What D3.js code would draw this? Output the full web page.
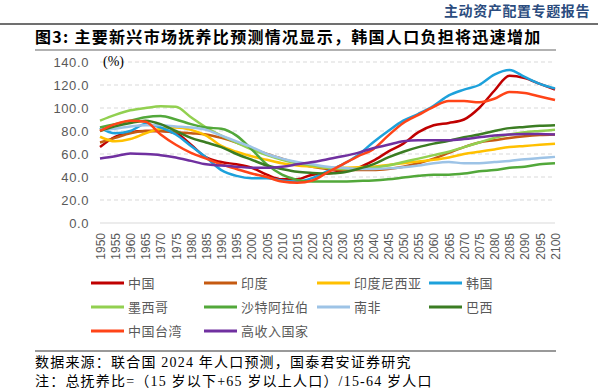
<!DOCTYPE html>
<html>
<head>
<meta charset="utf-8">
<script src="https://cdn.jsdelivr.net/npm/d3@7"></script>
<style>
  body { margin: 0; background: #fff; }
  svg { display: block; }
</style>
</head>
<body>
<svg></svg>
<script>
// categories
var years = [1950,1955,1960,1965,1970,1975,1980,1985,1990,1995,2000,2005,2010,2015,2020,2025,
             2030,2035,2040,2045,2050,2055,2060,2065,2070,2075,2080,2085,2090,2095,2100];

// total dependency ratio (%)
var china     = [66,75,79,80,80,78,68,57,53,51,48,42,38,38,42,43,45,48,54,62,69,79,85,87,90,100,115,128,126,121,116];
var india     = [70,74,78,80,80,79,78,77,74,70,65,60,56,52,49,47,46,46,46,47,49,52,56,61,66,70,72,74,75.5,76.5,77];
var indonesia = [75,71,73,78,82,83,81,76,67,62,58,55,52,50,49,48,48,48.5,49,50.5,52,53.5,55,57,60,62,64,66,67,68,69];
var korea     = [83,78,80,86,83,77,67,57,46,41,39,39,37,36,39,45,51,59,70,80,89,95,102,111,116,120,129,133,127,121,117];
var mexico    = [89,94,98,100,101.5,101,92,83,76,70,64,59,55,52,50,48,47,47,48,50,53,56,59,62,66,70,74,77,79,80,81];
var saudi     = [83,86,89,92,93,90,86,83,82,76,64,51,42,37.5,36,36,36,36.5,37,38,39.5,41,42,42,43,45,46,48,49,51,52];
var safrica   = [81,82,84,85,85,84,83,81,76,71,66,60,56,53,51,49,48,47,47,47.5,48.5,50,52,53,52,52,53,54,55.5,56.5,57.5];
var brazil    = [80,84,87,89,86,80,74,70,66,60,55,50,47,44.5,43.5,43,44,47,51,57,62,66,69,71.5,74.5,77,80,82.5,83.5,84.5,85];
var taiwan    = [80,86,89,88,77,68,61,56,51,47,43,40,36,35,37,44,51,58,64,76,87,94,101,106,106,105,108,114,113,110,107];
var highinc   = [56,58,60.5,60,59,57,54,51,50,49,48,48,49,51,53,55.5,58,61,65,68,71,72,72,72,73,74.5,76,77,77.5,77.5,77];

var names  = ["中国","印度","印度尼西亚","韩国","墨西哥","沙特阿拉伯","南非","巴西","中国台湾","高收入国家"];
var colors = ["#C00000","#C55A11","#FFC000","#1DA1DB","#92D050","#52A83A","#9DC3E6","#3B7D23","#FF4418","#7030A0"];
var yTicks = [0,20,40,60,80,100,120,140];

var seriesList = [china, india, indonesia, korea, mexico, saudi, safrica, brazil, taiwan, highinc];

var svgWidth = 598, svgHeight = 390;
var svg = d3.select("svg").attr("width", svgWidth).attr("height", svgHeight);

var cjk = "'Noto Sans CJK SC', sans-serif";
var serifMix = "'Liberation Serif', 'Noto Sans CJK SC', serif";

// header
svg.append("text")
  .attr("x", 590).attr("y", 16)
  .attr("text-anchor", "end")
  .style("font-family", cjk).style("font-size", "14px").style("font-weight", "bold")
  .style("letter-spacing", "0.6px")
  .style("fill", "#2B4C7E")
  .text("主动资产配置专题报告");

svg.append("line").attr("x1", 0).attr("x2", 598).attr("y1", 24).attr("y2", 24)
  .style("stroke", "#404040").style("stroke-width", 1.3);

svg.append("text")
  .attr("x", 35).attr("y", 43)
  .style("font-family", cjk).style("font-size", "16px").style("font-weight", "bold")
  .style("letter-spacing", "1.3px")
  .style("fill", "#000")
  .text("图3:  主要新兴市场抚养比预测情况显示，韩国人口负担将迅速增加");

svg.append("line").attr("x1", 35).attr("x2", 556).attr("y1", 50).attr("y2", 50)
  .style("stroke", "#999").style("stroke-width", 1.3);

// scales
var xScale = d3.scalePoint().domain(years).range([100, 555]);
var yScale = d3.scaleLinear().domain([0, 140]).range([223, 62]);

// gridlines
svg.append("g").selectAll("line")
  .data(yTicks)
  .enter().append("line")
  .attr("x1", 100).attr("x2", 555)
  .attr("y1", function(d){ return yScale(d); })
  .attr("y2", function(d){ return yScale(d); })
  .style("stroke", "#D9D9D9").style("stroke-width", 1)
  .style("stroke-dasharray", function(d){ return d == 0 ? null : "4,3"; });

// y axis
var yAxis = d3.axisLeft(yScale).tickValues(yTicks).tickSize(0).tickPadding(11)
  .tickFormat(d3.format(".1f"));
var gy = svg.append("g").attr("transform", "translate(100,0)").call(yAxis);
gy.select(".domain").remove();
gy.selectAll("text")
  .style("font-family", "'Liberation Sans', sans-serif").style("font-size", "13px")
  .style("letter-spacing", "0.6px")
  .style("fill", "#595959");

svg.append("text")
  .attr("x", 103).attr("y", 66)
  .style("font-family", serifMix).style("font-size", "14px").style("fill", "#000")
  .text("(%)");

// x axis
var xAxis = d3.axisBottom(xScale).tickSize(0);
var gx = svg.append("g").attr("transform", "translate(0,223)").call(xAxis);
gx.select(".domain").remove();
gx.selectAll("text")
  .attr("transform", "rotate(-90)")
  .attr("x", -10).attr("y", 0).attr("dy", "0.35em")
  .style("text-anchor", "end")
  .style("font-family", "'Liberation Sans', sans-serif").style("font-size", "12px")
  .style("fill", "#595959");

// lines
var line = d3.line()
  .x(function(d, i){ return xScale(years[i]); })
  .y(function(d){ return yScale(d); })
  .curve(d3.curveMonotoneX);

svg.append("g").selectAll("path")
  .data(seriesList)
  .enter().append("path")
  .attr("d", line)
  .style("fill", "none")
  .style("stroke", function(d, i){ return colors[i]; })
  .style("stroke-width", 2.5)
  .style("stroke-linejoin", "round");

// legend
var colX = [91, 204, 317, 429];
var rowY = [283, 307, 331];
var legend = svg.append("g").selectAll("g")
  .data(names)
  .enter().append("g")
  .attr("transform", function(d, i){
    return "translate(" + colX[i % 4] + "," + rowY[Math.floor(i / 4)] + ")";
  });
legend.append("line")
  .attr("x1", 0).attr("x2", 33).attr("y1", 0).attr("y2", 0)
  .style("stroke", function(d, i){ return colors[i]; })
  .style("stroke-width", 3);
legend.append("text")
  .attr("x", 37).attr("y", 0).attr("dy", "0.35em")
  .style("font-family", cjk).style("font-size", "13px").style("fill", "#595959")
  .style("letter-spacing", "0.5px")
  .text(function(d){ return d; });

// footer
svg.append("line").attr("x1", 35).attr("x2", 556).attr("y1", 351).attr("y2", 351)
  .style("stroke", "#777").style("stroke-width", 1.3);

svg.append("text")
  .attr("x", 35).attr("y", 367)
  .style("font-family", serifMix).style("font-size", "14px").style("fill", "#000")
  .style("letter-spacing", "1.2px")
  .text("数据来源：联合国 2024 年人口预测，国泰君安证券研究");

svg.append("text")
  .attr("x", 35).attr("y", 386)
  .style("font-family", serifMix).style("font-size", "14px").style("fill", "#000")
  .style("letter-spacing", "1.2px")
  .text("注：总抚养比=（15 岁以下+65 岁以上人口）/15-64 岁人口");
</script>
</body>
</html>
